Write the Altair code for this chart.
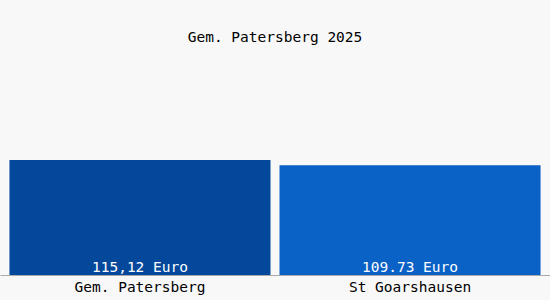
import altair as alt
import pandas as pd

categories = ["Gem. Patersberg", "St Goarshausen"]
values = [115.12, 109.73]
labels = ["115,12 Euro", "109.73 Euro"]
colors = ["#03489a", "#0a61c6"]

df = pd.DataFrame({"cat": categories, "val": values, "label": labels, "color": colors})

FONT = "DejaVu Sans Mono"
FS = 14.5

x = alt.X("cat:N", sort=categories, title=None,
          scale=alt.Scale(paddingInner=0.0333, paddingOuter=0.035),
          axis=alt.Axis(labelAngle=0, labelFont=FONT, labelFontSize=FS, labelColor="#000",
                        labelPadding=5, ticks=False, domainColor="#aaaaaa", domainWidth=1))
y = alt.Y("val:Q", scale=alt.Scale(domain=[0, 200]), axis=None)

bars = alt.Chart(df).mark_bar().encode(x=x, y=y, color=alt.Color("color:N", scale=None))
text = alt.Chart(df).mark_text(baseline="bottom", dy=0, font=FONT, fontSize=FS, color="white").encode(
    x=alt.X("cat:N", sort=categories), y=alt.value(200), text="label:N")

chart = (bars + text).properties(
    width=550, height=200,
    title=alt.TitleParams("Gem. Patersberg 2025", font=FONT, fontSize=FS, fontWeight="normal",
                          color="#000", offset=30, anchor="middle"),
    padding={"top": 75, "bottom": 25, "left": 0, "right": 0},
    autosize=alt.AutoSizeParams(type="none"),
    background="#f8f8f8",
).configure_view(stroke=None)

chart.save("out.html", embed_options={"renderer": "svg", "actions": False})
